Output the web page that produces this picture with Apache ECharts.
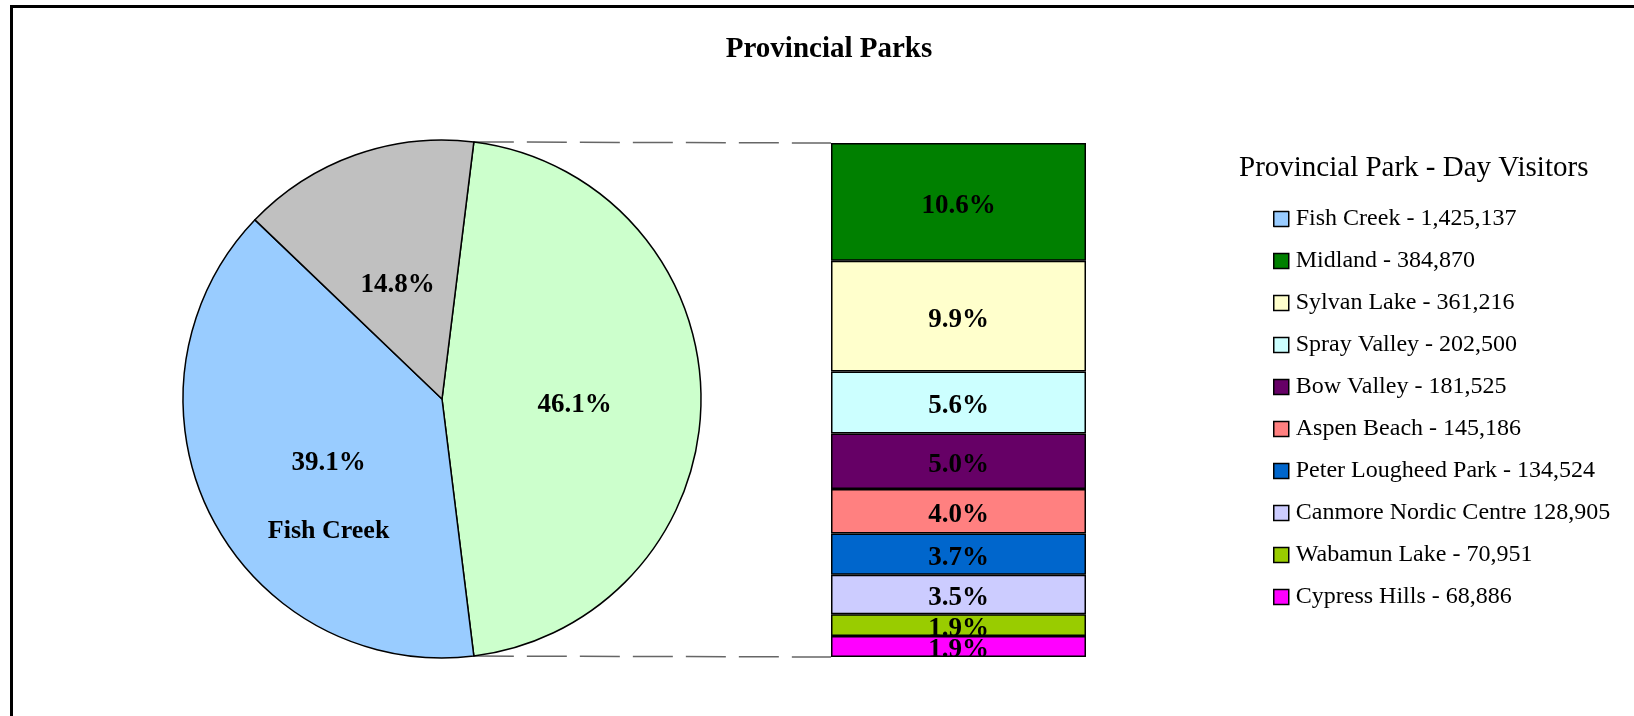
<!DOCTYPE html>
<html><head><meta charset="utf-8">
<script src="https://cdn.jsdelivr.net/npm/echarts@6/dist/echarts.min.js"></script>
<style>html,body{margin:0;padding:0;background:#fff;overflow:hidden;} #c{width:1634px;height:716px;}</style>
</head><body><div id="c"></div>
<script>
// ---- data ----
const chartTitle = 'Provincial Parks';
const legendTitle = 'Provincial Park - Day Visitors';
const mainName = 'Fish Creek';
const mainValue = 1425137;
const otherName = 'Other';
const restName = 'Other Provincial Parks';
const restValue = 539300; // estimated from 14.8%
const barNames = ['Midland','Sylvan Lake','Spray Valley','Bow Valley','Aspen Beach','Peter Lougheed Park','Canmore Nordic Centre','Wabamun Lake','Cypress Hills'];
const barValues = [384870,361216,202500,181525,145186,134524,128905,70951,68886];
const legendNames = ['Fish Creek','Midland','Sylvan Lake','Spray Valley','Bow Valley','Aspen Beach','Peter Lougheed Park','Canmore Nordic Centre','Wabamun Lake','Cypress Hills'];
const legendLabels = ['Fish Creek - 1,425,137','Midland - 384,870','Sylvan Lake - 361,216','Spray Valley - 202,500','Bow Valley - 181,525','Aspen Beach - 145,186','Peter Lougheed Park - 134,524','Canmore Nordic Centre 128,905','Wabamun Lake - 70,951','Cypress Hills - 68,886'];
const pieColors = {main:'#99CCFF', other:'#CCFFCC', rest:'#C0C0C0'};
const barColors = ['#008000','#FFFFCC','#CCFFFF','#660066','#FF8080','#0066CC','#CCCCFF','#99CC00','#FF00FF'];

// ---- derived ----
const otherValue = barValues.reduce((a,b)=>a+b,0);
const total = mainValue + otherValue + restValue;
const pct = v => (v/total*100).toFixed(1) + '%';
const FONT = "'Liberation Serif','Times New Roman',serif";
const RICH = {v:{fontFamily:FONT, fontWeight:'bold', fontSize:27, color:'#000'}};

const PIE_C = [442, 399], PIE_R = 259;
const GRID = {left: 831, top: 143, width: 255, height: 514};
const startAngle = otherValue/total*180;

const labelMap = {};
legendNames.forEach((n,i)=>labelMap[n]=legendLabels[i]);

const chart = echarts.init(document.getElementById('c'), null, {renderer:'canvas'});

const barSeries = barNames.map((n,i)=>({
  type:'bar', name:n, stack:'s', data:[barValues[i]],
  barWidth:'100%', barCategoryGap:0,
  itemStyle:{color:barColors[i], borderColor:'#000', borderWidth:1.5},
  label:{show:true, position:'inside', formatter:p=>'{v|'+pct(p.value)+'}', rich:RICH, padding:[8,0,0,0]},
  emphasis:{disabled:true}, silent:true
}));

// connector endpoints
const a = startAngle*Math.PI/180;
const p1 = [PIE_C[0]+PIE_R*Math.cos(a), PIE_C[1]-PIE_R*Math.sin(a)];
const p2 = [PIE_C[0]+PIE_R*Math.cos(a), PIE_C[1]+PIE_R*Math.sin(a)];

chart.setOption({
  animation:false,
  backgroundColor:'#fff',
  title:[
    {text:chartTitle, left:824, textAlign:'center', top:30, textStyle:{fontFamily:FONT, fontWeight:'bold', fontSize:29, color:'#000'}},
    {text:legendTitle, left:1234, top:149, textStyle:{fontFamily:FONT, fontWeight:'normal', fontSize:29, color:'#000'}}
  ],
  legend:{
    orient:'vertical', left:1268, top:202, itemWidth:15, itemHeight:15, itemGap:18, icon:'rect',
    data:legendNames, selectedMode:false,
    itemStyle:{borderColor:'#000', borderWidth:1.5},
    textStyle:{fontFamily:FONT, fontSize:24, color:'#000', padding:[0,0,0,2]},
    formatter:n=>labelMap[n]
  },
  grid:{left:GRID.left, top:GRID.top, width:GRID.width, height:GRID.height},
  xAxis:{type:'category', data:['Other'], show:false},
  yAxis:{type:'value', min:0, max:otherValue, inverse:true, show:false},
  graphic:[
    {type:'rect', shape:{x:11.5, y:6.5, width:1700, height:800}, style:{fill:null, stroke:'#000', lineWidth:3}, silent:true, z:100},
    {type:'line', shape:{x1:p1[0], y1:p1[1], x2:GRID.left, y2:GRID.top}, style:{stroke:'#666', lineWidth:1.5, lineDash:[40,13]}, silent:true},
    {type:'line', shape:{x1:p2[0], y1:p2[1], x2:GRID.left, y2:GRID.top+GRID.height}, style:{stroke:'#666', lineWidth:1.5, lineDash:[40,13]}, silent:true}
  ],
  series:[
    {
      type:'pie', center:PIE_C, radius:PIE_R, startAngle:startAngle, clockwise:true,
      emphasis:{disabled:true}, silent:true, labelLine:{show:false},
      itemStyle:{borderColor:'#000', borderWidth:1.5},
      label:{show:true, position:'inside', rich:RICH, padding:[12,0,0,0], formatter:p=>'{v|'+pct(p.value)+'}'},
      data:[
        {name:otherName, value:otherValue, itemStyle:{color:pieColors.other}},
        {name:mainName, value:mainValue, itemStyle:{color:pieColors.main},
          label:{formatter:p=>'{p|'+pct(p.value)+'}\n{g|}\n{n|'+p.name+'}', padding:[78,0,0,10],
            rich:{p:{fontFamily:FONT, fontWeight:'bold', fontSize:27, lineHeight:34, color:'#000'},
                  g:{lineHeight:34},
                  n:{fontFamily:FONT, fontWeight:'bold', fontSize:26, lineHeight:34, color:'#000'}}}},
        {name:restName, value:restValue, itemStyle:{color:pieColors.rest}, label:{padding:[22,0,0,0]}}
      ]
    },
    ...barSeries
  ]
});
</script></body></html>
